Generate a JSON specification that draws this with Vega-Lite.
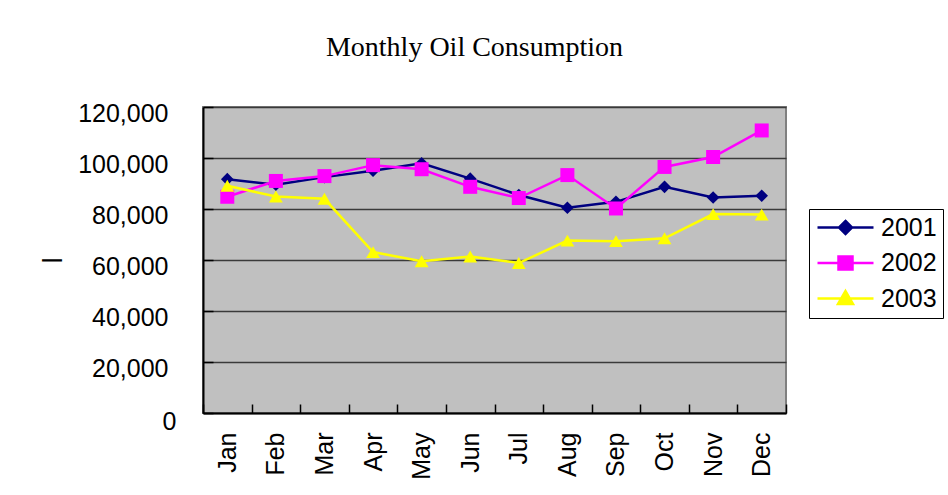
{
  "$schema": "https://vega.github.io/schema/vega-lite/v6.json",
  "autosize": "none",
  "width": 583,
  "height": 306,
  "padding": {"left": 203, "top": 107, "right": 162, "bottom": 82},
  "background": "white",
  "title": {
    "text": "Monthly Oil Consumption",
    "font": "Liberation Serif",
    "fontSize": 28,
    "fontWeight": "normal",
    "color": "black",
    "anchor": "middle",
    "baseline": "alphabetic",
    "dx": -20,
    "offset": 17
  },
  "config": {
    "view": {"fill": "#C0C0C0", "stroke": "#808080", "strokeWidth": 2},
    "axis": {"labelFont": "Liberation Sans", "titleFont": "Liberation Sans", "labelColor": "black", "titleColor": "black"}
  },
  "data": {
    "values": [
      {"month": "Jan", "year": "2001", "value": 91700},
      {"month": "Feb", "year": "2001", "value": 89500},
      {"month": "Mar", "year": "2001", "value": 92500},
      {"month": "Apr", "year": "2001", "value": 95000},
      {"month": "May", "year": "2001", "value": 97900},
      {"month": "Jun", "year": "2001", "value": 91900},
      {"month": "Jul", "year": "2001", "value": 85500},
      {"month": "Aug", "year": "2001", "value": 80500},
      {"month": "Sep", "year": "2001", "value": 82800},
      {"month": "Oct", "year": "2001", "value": 88700},
      {"month": "Nov", "year": "2001", "value": 84500},
      {"month": "Dec", "year": "2001", "value": 85200},
      {"month": "Jan", "year": "2002", "value": 84800},
      {"month": "Feb", "year": "2002", "value": 91000},
      {"month": "Mar", "year": "2002", "value": 92900},
      {"month": "Apr", "year": "2002", "value": 97200},
      {"month": "May", "year": "2002", "value": 95600},
      {"month": "Jun", "year": "2002", "value": 88700},
      {"month": "Jul", "year": "2002", "value": 84300},
      {"month": "Aug", "year": "2002", "value": 93300},
      {"month": "Sep", "year": "2002", "value": 80200},
      {"month": "Oct", "year": "2002", "value": 96500},
      {"month": "Nov", "year": "2002", "value": 100400},
      {"month": "Dec", "year": "2002", "value": 110800},
      {"month": "Jan", "year": "2003", "value": 89100},
      {"month": "Feb", "year": "2003", "value": 84900},
      {"month": "Mar", "year": "2003", "value": 84000},
      {"month": "Apr", "year": "2003", "value": 63100},
      {"month": "May", "year": "2003", "value": 59500},
      {"month": "Jun", "year": "2003", "value": 61400},
      {"month": "Jul", "year": "2003", "value": 58800},
      {"month": "Aug", "year": "2003", "value": 67600},
      {"month": "Sep", "year": "2003", "value": 67400},
      {"month": "Oct", "year": "2003", "value": 68500},
      {"month": "Nov", "year": "2003", "value": 78000},
      {"month": "Dec", "year": "2003", "value": 77800}
    ]
  },
  "encoding": {
    "x": {
      "field": "month",
      "type": "nominal",
      "sort": ["Jan", "Feb", "Mar", "Apr", "May", "Jun", "Jul", "Aug", "Sep", "Oct", "Nov", "Dec"],
      "scale": {"type": "band", "paddingInner": 0, "paddingOuter": 0},
      "axis": {
        "title": null,
        "labelAngle": -90,
        "labelAlign": "right",
        "labelBaseline": "middle",
        "labelFontSize": 25,
        "labelPadding": 28,
        "tickBand": "extent",
        "tickSize": -9,
        "tickColor": "black",
        "tickWidth": 1.5,
        "domainColor": "black",
        "domainWidth": 2,
        "grid": false
      }
    },
    "y": {
      "field": "value",
      "type": "quantitative",
      "scale": {"domain": [0, 120000], "nice": false},
      "axis": {
        "title": "l",
        "titleFontSize": 28,
        "titleFontWeight": "normal",
        "titlePadding": 10,
        "values": [0, 20000, 40000, 60000, 80000, 100000, 120000],
        "format": ",.0f",
        "labelFontSize": 25,
        "labelPadding": {"condition": {"test": "datum.value === 0", "value": 37}, "value": 45},
        "labelOffset": {"condition": {"test": "datum.value === 0", "value": 8}, "value": 6},
        "tickSize": -10,
        "tickColor": "black",
        "tickWidth": 1.5,
        "domainColor": "black",
        "domainWidth": 2,
        "grid": true,
        "gridColor": "#3a3a3a",
        "gridWidth": 1.5
      }
    },
    "color": {
      "field": "year",
      "type": "nominal",
      "scale": {"domain": ["2001", "2002", "2003"], "range": ["#000080", "#FF00FF", "#FFFF00"]},
      "legend": {
        "orient": "none",
        "legendX": 606,
        "legendY": 102,
        "title": null,
        "strokeColor": "black",
        "padding": 6,
        "symbolSize": 400,
        "labelFont": "Liberation Sans",
        "labelFontSize": 25,
        "labelColor": "black",
        "labelOffset": 41,
        "rowPadding": 9.5,
        "encode": {
          "symbols": {
            "update": {
              "shape": {"signal": "datum.value === '2001' ? 'M-1,0L4.6,0M1.8,-0.65L2.45,0L1.8,0.65L1.15,0Z' : datum.value === '2002' ? 'M-1,0L4.6,0M1.1,-0.65H2.5V0.65H1.1Z' : 'M-1,0L4.6,0M1.8,-0.75L2.55,0.55H1.05Z'"},
              "fill": {"signal": "scale('color', datum.value)"},
              "stroke": {"signal": "scale('color', datum.value)"},
              "strokeWidth": {"value": 2.5},
              "opacity": {"value": 1},
              "fillOpacity": {"value": 1}
            }
          }
        }
      }
    }
  },
  "layer": [
    {"mark": {"type": "line", "strokeWidth": 2.5}},
    {
      "transform": [{"filter": "datum.year === '2001'"}],
      "mark": {"type": "point", "filled": true, "opacity": 1, "shape": "diamond", "size": 160}
    },
    {
      "transform": [{"filter": "datum.year === '2002'"}],
      "mark": {"type": "point", "filled": true, "opacity": 1, "shape": "square", "size": 196}
    },
    {
      "transform": [{"filter": "datum.year === '2003'"}],
      "mark": {"type": "point", "filled": true, "opacity": 1, "shape": "triangle-up", "size": 190}
    }
  ]
}
